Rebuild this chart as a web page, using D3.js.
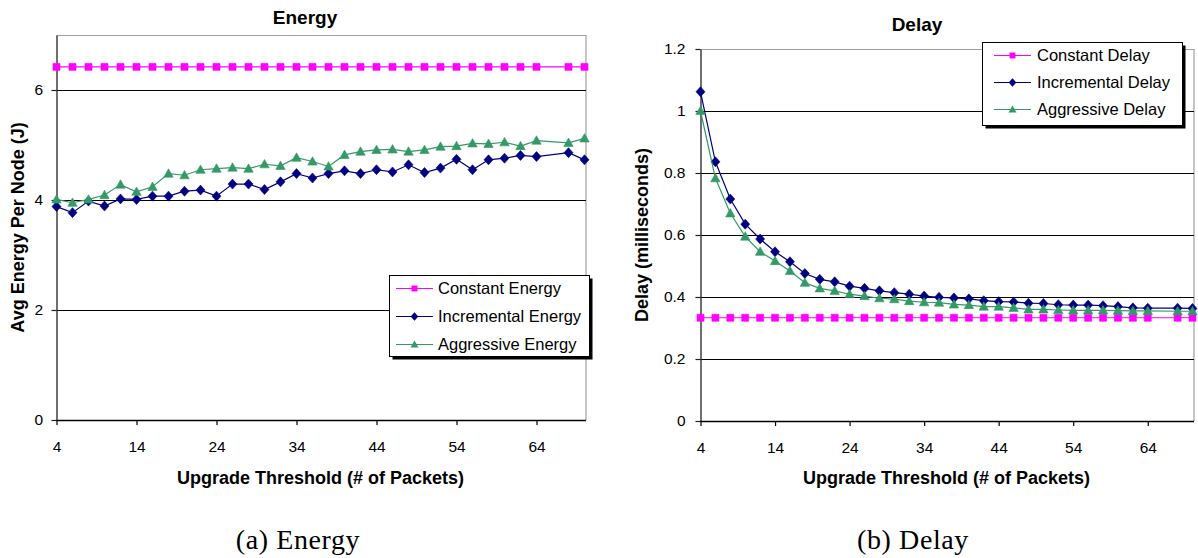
<!DOCTYPE html>
<html>
<head>
<meta charset="utf-8">
<script src="https://cdn.jsdelivr.net/npm/d3@7"></script>
<style>
  html, body { margin: 0; padding: 0; background: #fff; }
  svg { display: block; }
  text { fill: #000; }
</style>
</head>
<body>
<svg id="fig" width="1198" height="558"></svg>
<script>
// Upgrade thresholds (# of packets) sampled in the experiments
const thresholds = [4, 6, 8, 10, 12, 14, 16, 18, 20, 22, 24, 26, 28, 30, 32, 34, 36, 38, 40, 42,
                    44, 46, 48, 50, 52, 54, 56, 58, 60, 62, 64, 68, 70];
const xTickValues = [4, 14, 24, 34, 44, 54, 64];

// Average energy per node (J)
const energyConstant = [6.42, 6.42, 6.42, 6.42, 6.42, 6.42, 6.42, 6.42, 6.42, 6.42, 6.42, 6.42,
                        6.42, 6.42, 6.42, 6.42, 6.42, 6.42, 6.42, 6.42, 6.42, 6.42, 6.42, 6.42,
                        6.42, 6.42, 6.42, 6.42, 6.42, 6.42, 6.42, 6.42, 6.42];
const energyIncremental = [3.88, 3.77, 3.98, 3.89, 4.02, 4.01, 4.07, 4.07, 4.16, 4.18, 4.07, 4.29,
                           4.29, 4.19, 4.33, 4.48, 4.40, 4.48, 4.53, 4.48, 4.55, 4.51, 4.64, 4.50,
                           4.58, 4.74, 4.55, 4.73, 4.76, 4.81, 4.79, 4.86, 4.73];
const energyAggressive = [4.01, 3.95, 4.01, 4.09, 4.28, 4.15, 4.24, 4.48, 4.45, 4.55, 4.57, 4.59,
                          4.57, 4.65, 4.62, 4.77, 4.70, 4.61, 4.82, 4.88, 4.91, 4.92, 4.88, 4.91,
                          4.97, 4.98, 5.03, 5.02, 5.05, 4.98, 5.08, 5.04, 5.12];
const energyTicks = [0, 2, 4, 6];

// Delay (milliseconds)
const delayConstant = [0.333, 0.333, 0.333, 0.333, 0.333, 0.333, 0.333, 0.333, 0.333, 0.333, 0.333,
                       0.333, 0.333, 0.333, 0.333, 0.333, 0.333, 0.333, 0.333, 0.333, 0.333, 0.333,
                       0.333, 0.333, 0.333, 0.333, 0.333, 0.333, 0.333, 0.333, 0.333, 0.333, 0.333];
const delayIncremental = [1.062, 0.836, 0.716, 0.635, 0.587, 0.546, 0.514, 0.476, 0.457, 0.449, 0.435,
                          0.428, 0.420, 0.414, 0.409, 0.403, 0.399, 0.397, 0.394, 0.388, 0.385, 0.384,
                          0.380, 0.379, 0.375, 0.374, 0.374, 0.372, 0.369, 0.365, 0.364, 0.364, 0.363];
const delayAggressive = [1.000, 0.783, 0.670, 0.595, 0.546, 0.516, 0.484, 0.446, 0.428, 0.420, 0.409,
                         0.403, 0.396, 0.393, 0.387, 0.383, 0.382, 0.376, 0.374, 0.369, 0.369, 0.365,
                         0.360, 0.360, 0.358, 0.357, 0.357, 0.357, 0.356, 0.355, 0.355, 0.354, 0.354];
const delayTicks = [0, 0.2, 0.4, 0.6, 0.8, 1, 1.2];

const SANS = "'Liberation Sans', Arial, sans-serif";
const SERIF = "'Liberation Serif', 'Times New Roman', serif";

// Marker shapes and colours of the three strategies
const styles = {
  Constant:    { color: "#ff00ff", marker: "M-3.5,-3.5h7v7h-7z" },
  Incremental: { color: "#000080", marker: "M0,-5L4.5,0L0,5L-4.5,0Z" },
  Aggressive:  { color: "#339966", marker: "M0,-4.8L4.7,3.6L-4.7,3.6Z" }
};

const svg = d3.select("#fig");
svg.append("rect").attr("width", 1198).attr("height", 558).attr("fill", "#fff");

function drawPanel(p) {
  const g = svg.append("g");
  const x = d3.scaleLinear().domain([4, 70]).range([p.left, p.right]);
  const y = d3.scaleLinear().domain(p.yDomain).range([p.bottom, p.top]);

  // plot-area frame (top and right edges)
  g.append("path")
    .attr("d", `M${p.left},${p.top + 0.5}H${p.right + 1.5}V${p.bottom}`)
    .attr("fill", "none").attr("stroke", "#a0a0a0").attr("stroke-width", 1.2);

  // horizontal gridlines
  g.append("g").selectAll("line")
    .data(p.yTicks.filter(t => t > p.yDomain[0] && y(t) > p.top + 1))
    .join("line")
    .attr("x1", p.left).attr("x2", p.right + 1.5)
    .attr("y1", d => Math.round(y(d)) + 0.5).attr("y2", d => Math.round(y(d)) + 0.5)
    .attr("stroke", "#000").attr("stroke-width", 1.1);

  // y axis
  const ya = g.append("g").attr("transform", `translate(${p.left},0)`)
    .call(d3.axisLeft(y).tickValues(p.yTicks).tickSize(5).tickSizeOuter(0)
      .tickPadding(p.yPad).tickFormat(d => String(d)));
  ya.select(".domain").attr("stroke", "#222").attr("stroke-width", 1.3);
  ya.selectAll(".tick line").attr("stroke", "#222").attr("stroke-width", 1.2);
  ya.selectAll(".tick text").style("font-size", "15.5px").style("fill", "#000")
    .style("font-family", SANS);

  // x axis
  const xa = g.append("g").attr("transform", `translate(0,${p.bottom})`)
    .call(d3.axisBottom(x).tickValues(xTickValues).tickSize(5).tickSizeOuter(0).tickPadding(16));
  xa.select(".domain").attr("stroke", "#000").attr("stroke-width", 1.3)
    .attr("d", `M${p.left},0.5H${p.right + 1.5}`);
  xa.selectAll(".tick line").attr("stroke", "#000").attr("stroke-width", 1.2);
  xa.selectAll(".tick text").style("font-size", "15.5px").style("fill", "#000")
    .style("font-family", SANS);

  // series: line + markers
  const line = d3.line().x(d => x(d.t)).y(d => y(d.v));
  p.series.forEach(s => {
    const st = styles[s.kind];
    const pts = thresholds.map((t, i) => ({ t, v: s.values[i] }));
    g.append("path").datum(pts).attr("d", line)
      .attr("fill", "none").attr("stroke", st.color).attr("stroke-width", 1.2);
    g.append("g").selectAll("path").data(pts).join("path")
      .attr("d", st.marker)
      .attr("transform", d => `translate(${x(d.t)},${y(d.v)})`)
      .attr("fill", st.color).attr("stroke", st.color).attr("stroke-width", 0.6);
  });

  // chart title
  svg.append("text").attr("x", p.titleX).attr("y", p.titleY)
    .attr("text-anchor", "middle")
    .style("font-family", SANS).style("font-size", "19px").style("font-weight", "bold")
    .text(p.title);

  // axis titles
  svg.append("text").attr("x", (p.left + p.right) / 2).attr("y", 484)
    .attr("text-anchor", "middle")
    .style("font-family", SANS).style("font-size", "18px").style("font-weight", "bold")
    .text("Upgrade Threshold (# of Packets)");
  svg.append("text")
    .attr("transform", `translate(${p.yTitleX},${(p.top + p.bottom) / 2}) rotate(-90)`)
    .attr("text-anchor", "middle")
    .style("font-family", SANS).style("font-size", "18px").style("font-weight", "bold")
    .text(p.yTitle);

  // legend
  const L = p.legend;
  const lg = svg.append("g").attr("transform", `translate(${L.x},${L.y})`);
  lg.append("rect").attr("x", 3.5).attr("y", 3.5).attr("width", L.w).attr("height", L.h).attr("fill", "#000");
  lg.append("rect").attr("x", 0.5).attr("y", 0.5).attr("width", L.w).attr("height", L.h)
    .attr("fill", "#fff").attr("stroke", "#000").attr("stroke-width", 1);
  p.series.forEach((s, i) => {
    const st = styles[s.kind];
    const cy = 13.5 + i * L.step;
    lg.append("line").attr("x1", L.lineX).attr("x2", L.lineX + 37).attr("y1", cy).attr("y2", cy)
      .attr("stroke", st.color).attr("stroke-width", 1.2);
    lg.append("path").attr("d", st.marker)
      .attr("transform", `translate(${L.lineX + 18.5},${cy}) scale(0.85)`)
      .attr("fill", st.color);
    lg.append("text").attr("x", L.textX).attr("y", cy).attr("dy", "0.36em")
      .style("font-family", SANS).style("font-size", "16.5px")
      .text(`${s.kind} ${p.legendWord}`);
  });

  // caption below the panel
  svg.append("text").attr("x", p.captionX).attr("y", 549)
    .attr("text-anchor", "middle")
    .style("font-family", SERIF).style("font-size", "28px").style("letter-spacing", "0.6px")
    .text(p.caption);
}

drawPanel({
  left: 56.5, right: 584.5, top: 35, bottom: 420,
  yDomain: [0, 7], yTicks: energyTicks, yPad: 8.5,
  series: [
    { kind: "Constant", values: energyConstant },
    { kind: "Incremental", values: energyIncremental },
    { kind: "Aggressive", values: energyAggressive }
  ],
  title: "Energy", titleX: 305, titleY: 23.5,
  yTitle: "Avg Energy Per Node (J)", yTitleX: 24,
  legend: { x: 389, y: 275, w: 200, h: 81, step: 28, lineX: 7, textX: 49 },
  legendWord: "Energy",
  caption: "(a)  Energy", captionX: 298
});

drawPanel({
  left: 700.5, right: 1192.5, top: 49, bottom: 421,
  yDomain: [0, 1.2], yTicks: delayTicks, yPad: 10,
  series: [
    { kind: "Constant", values: delayConstant },
    { kind: "Incremental", values: delayIncremental },
    { kind: "Aggressive", values: delayAggressive }
  ],
  title: "Delay", titleX: 917, titleY: 30.5,
  yTitle: "Delay (milliseconds)", yTitleX: 648,
  legend: { x: 982, y: 42, w: 200, h: 83, step: 27, lineX: 12, textX: 55 },
  legendWord: "Delay",
  caption: "(b)  Delay", captionX: 913
});
</script>
</body>
</html>
